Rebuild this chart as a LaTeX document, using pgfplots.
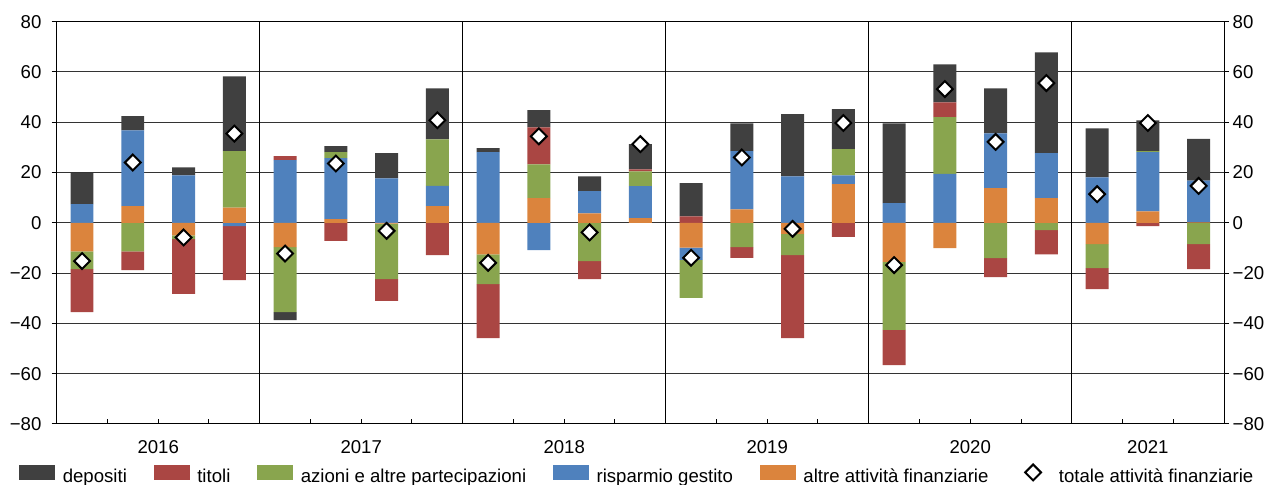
\documentclass[border=0pt]{standalone}
\usepackage{fontspec}
\setmainfont{Liberation Sans}
\usepackage{pgfplots}
\pgfplotsset{compat=1.18}
\usepackage{pgfplotstable}

\definecolor{cdep}{RGB}{64,64,64}
\definecolor{ctit}{RGB}{170,70,67}
\definecolor{caz}{RGB}{137,165,78}
\definecolor{crisp}{RGB}{79,129,189}
\definecolor{caltre}{RGB}{219,132,61}

\pgfplotstableread{
q dep tit az risp altre tot
0 12.5 -17.1 -7.1 7.4 -11.3 -15.2
1 5.6 -7.5 -11.3 30.2 6.6 24.0
2 3.2 -21.8 -1.5 18.9 -5.0 -5.8
3 29.8 -21.5 22.4 -1.3 6.1 35.5
4 -3.2 1.6 -25.8 24.9 -9.7 -12.2
5 2.4 -7.2 2.4 24.2 1.5 23.6
6 10.0 -8.6 -22.1 17.7 -0.3 -3.2
7 20.3 -12.8 18.5 8.1 6.6 40.8
8 1.6 -21.4 -11.9 28.1 -12.5 -15.9
9 6.8 14.7 13.5 -10.9 9.8 34.4
10 5.9 -7.2 -15.2 8.8 3.8 -3.8
11 10.0 0.8 5.9 12.7 1.9 31.3
12 13.2 2.6 -15.1 -4.8 -9.9 -13.9
13 11.1 -4.2 -9.7 23.1 5.4 26.0
14 24.7 -33.0 -8.4 18.5 -4.4 -2.4
15 15.9 -5.6 10.4 3.5 15.4 39.7
16 31.8 -14.0 -27.1 7.8 -15.5 -16.8
17 15.1 5.9 22.5 19.5 -10.1 53.2
18 17.9 -7.6 -14.0 21.8 13.8 32.2
19 40.1 -9.6 -2.9 17.9 9.8 55.6
20 19.5 -8.4 -9.5 18.1 -8.5 11.4
21 12.3 -1.3 0.4 23.5 4.6 39.7
22 16.6 -9.9 -8.5 16.6 0.2 14.7
}\data

\newcommand\cf{\fontsize{9.3pt}{11pt}\selectfont}

\pgfplotsset{
  base/.style={
    scale only axis, width=583.65pt, height=201.15pt,
    xmin=-0.5, xmax=22.5, ymin=-80, ymax=80,
    at={(0,0)}, anchor=south west,
    ytick={-80,-60,...,80},
    yticklabels={−80,−60,−40,−20,0,20,40,60,80},
    every tick label/.append style={font=\cf},
    axis line style={line width=0.5pt},
  },
  diam/.style={only marks, mark=square*, mark size=2.8pt,
    mark options={rotate=45, fill=white, draw=black, line width=1pt}},
  barleg/.style={legend image code/.code={\fill[##1] (0pt,-1.5pt) rectangle (18pt,6pt);}},
  diamleg/.style={legend image code/.code={\path[draw=none,fill=none] (0pt,-1.5pt) rectangle (18pt,6pt);
      \draw[mark repeat=2,mark phase=2,##1] plot coordinates {(0pt,2.25pt) (9pt,2.25pt) (18pt,2.25pt)};}},
}

\begin{document}
\begin{tikzpicture}
\begin{axis}[base,
  ybar stacked, stack negative=separate, bar width=0.45,
  ymajorgrids, major grid style={black!80, line width=0.5pt},
  tick align=outside, major tick length=2.5pt,
  ytick pos=both, yticklabel pos=left,
  ytick style={black, line width=0.5pt},
  yticklabel style={xshift=-1.6pt},
  xtick={1.5,5.5,9.5,13.5,17.5,21},
  xticklabels={2016,2017,2018,2019,2020,2021},
  xtick pos=bottom,
  major x tick style={draw=none},
  minor xtick={0.5,1.5,2.5,4.5,5.5,6.5,8.5,9.5,10.5,12.5,13.5,14.5,16.5,17.5,18.5,20.5,21.5},
  minor tick length=2.5pt,
  minor x tick style={black, line width=0.5pt, yshift=2.5pt},
  xticklabel style={yshift=-2.2pt},
  extra x ticks={3.5,7.5,11.5,15.5,19.5},
  extra x tick labels={},
  extra x tick style={grid=major, major grid style={black, line width=0.7pt}, major x tick style={draw=none}},
  legend columns=-1,
  reverse legend,
  legend style={draw=none, fill=none, font=\cf, at={(0.4964,-0.1265)}, anchor=center,
    inner sep=0pt, nodes={inner sep=0pt}},
  /tikz/every odd column/.append style={column sep=3.9pt},
  /tikz/every even column/.append style={column sep=13.3pt},
  barleg,
]
\addlegendimage{diam, diamleg}
\addlegendentry{totale attività finanziarie}
\addplot[fill=caltre, draw=none] table[x=q, y=altre] {\data};
\addlegendentry{altre attività finanziarie}
\addplot[fill=crisp, draw=none] table[x=q, y=risp] {\data};
\addlegendentry{risparmio gestito}
\addplot[fill=caz, draw=none] table[x=q, y=az] {\data};
\addlegendentry{azioni e altre partecipazioni}
\addplot[fill=ctit, draw=none] table[x=q, y=tit] {\data};
\addlegendentry{titoli}
\addplot[fill=cdep, draw=none] table[x=q, y=dep] {\data};
\addlegendentry{depositi}
\end{axis}
\begin{axis}[base,
  hide x axis,
  axis y line*=right,
  major tick length=0pt,
  yticklabel style={xshift=0.8pt},
]
\addplot[diam] table[x=q, y=tot] {\data};
\end{axis}
\pgfresetboundingbox
\path (-28.35pt,-30.5pt) rectangle (605.65pt,212pt);
\end{tikzpicture}
\end{document}
